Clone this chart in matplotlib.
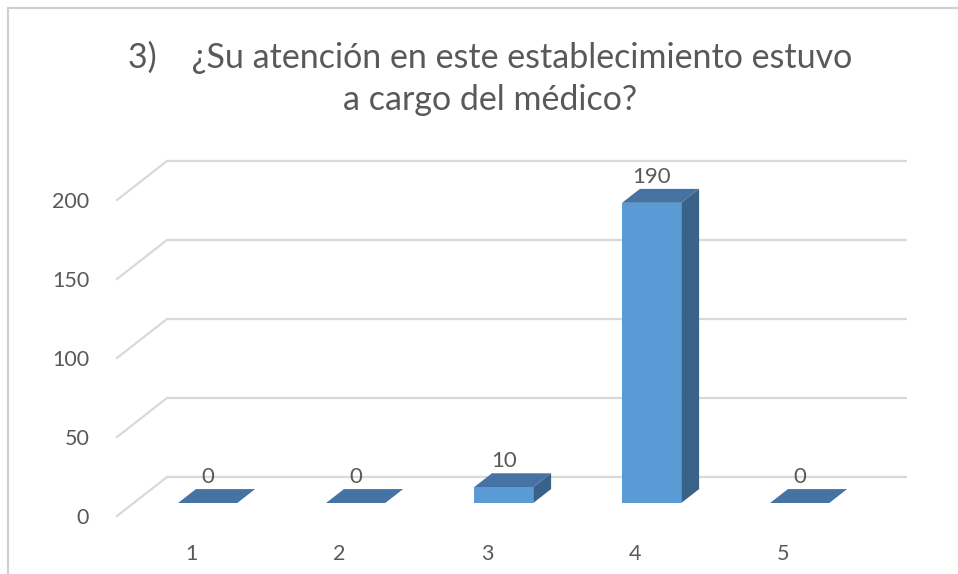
import matplotlib.pyplot as plt
from matplotlib.patches import Polygon, Rectangle

# Survey answers for question 3
categories = ['1', '2', '3', '4', '5']
counts = [0, 0, 10, 190, 0]
y_ticks = [0, 50, 100, 150, 200]

title_line1 = '3)    ¿Su atención en este establecimiento estuvo'
title_line2 = 'a cargo del médico?'

FRONT = '#5B9BD5'
TOP = '#4574A4'
SIDE = '#3A6289'
GRID = '#D9D9D9'
TEXT = '#595959'

plt.rcParams['font.family'] = ['Lato', 'DejaVu Sans']

W, H = 958, 574
fig = plt.figure(figsize=(W / 100, H / 100), dpi=100)

# front plane of the fake 3-D box, in pixels
x0, x1 = 117, 857
y0, y1 = 516, 200
ax = fig.add_axes([x0 / W, 1 - y0 / H, (x1 - x0) / W, (y0 - y1) / H])
ax.set_xlim(0.5, 5.5)
ax.set_ylim(0, 200)
for s in ax.spines.values():
    s.set_visible(False)
ax.patch.set_visible(False)

# depth vector (full depth of the box) in data units
px_x = (x1 - x0) / 5.0
px_y = (y0 - y1) / 200.0
dx = 50 / px_x
dy = 39 / px_y

# gridlines on the back wall plus the side wall diagonals
for t in y_ticks:
    ax.plot([0.5 + dx, 5.5 + dx], [t + dy, t + dy], color=GRID, lw=1.6,
            clip_on=False, zorder=1, solid_capstyle='butt')
    ax.plot([0.5, 0.5 + dx], [t, t + dy], color=GRID, lw=1.6,
            clip_on=False, zorder=1)

# bars sit in the middle slice of the depth
d0, d1 = 0.333, 0.69
half = 0.2
for i, v in enumerate(counts):
    c = i + 1 + d0 * dx
    xl, xr = c - half, c + half
    yb = d0 * dy
    yt = v + d0 * dy
    ox, oy = (d1 - d0) * dx, (d1 - d0) * dy
    top = Polygon([(xl, yt), (xr, yt), (xr + ox, yt + oy), (xl + ox, yt + oy)],
                  closed=True, facecolor=TOP, edgecolor='none',
                  clip_on=False, zorder=3)
    ax.add_patch(top)
    if v > 0:
        ax.add_patch(Rectangle((xl, yb), 2 * half, v, facecolor=FRONT,
                               edgecolor='none', clip_on=False, zorder=3))
        ax.add_patch(Polygon([(xr, yb), (xr + ox, yb + oy),
                              (xr + ox, yt + oy), (xr, yt)],
                             closed=True, facecolor=SIDE, edgecolor='none',
                             clip_on=False, zorder=3))
    ax.annotate(str(v), (c, yt + oy), xytext=(0, 12),
                textcoords='offset pixels', ha='center', va='center',
                fontsize=16, color=TEXT, zorder=4, annotation_clip=False)

ax.set_yticks(y_ticks)
ax.set_yticklabels([str(t) for t in y_ticks], fontsize=15.5, color=TEXT)
ax.set_xticks(range(1, len(categories) + 1))
ax.set_xticklabels(categories, fontsize=15.5, color=TEXT)
ax.tick_params(axis='y', length=0, pad=20)
ax.tick_params(axis='x', length=0, pad=20)

# chart area frame
fig.patches.append(Rectangle((7.5 / W, -0.1), 1.2, 1 - 8 / H + 0.1,
                             transform=fig.transFigure, fill=False,
                             edgecolor='#D0D0D0', lw=1.5))

fig.text(490 / W, 1 - 57 / H, title_line1, ha='center', va='center',
         fontsize=24.5, color=TEXT)
fig.text(490 / W, 1 - 100 / H, title_line2, ha='center', va='center',
         fontsize=24.5, color=TEXT)

fig.savefig('out.png', dpi=100)
